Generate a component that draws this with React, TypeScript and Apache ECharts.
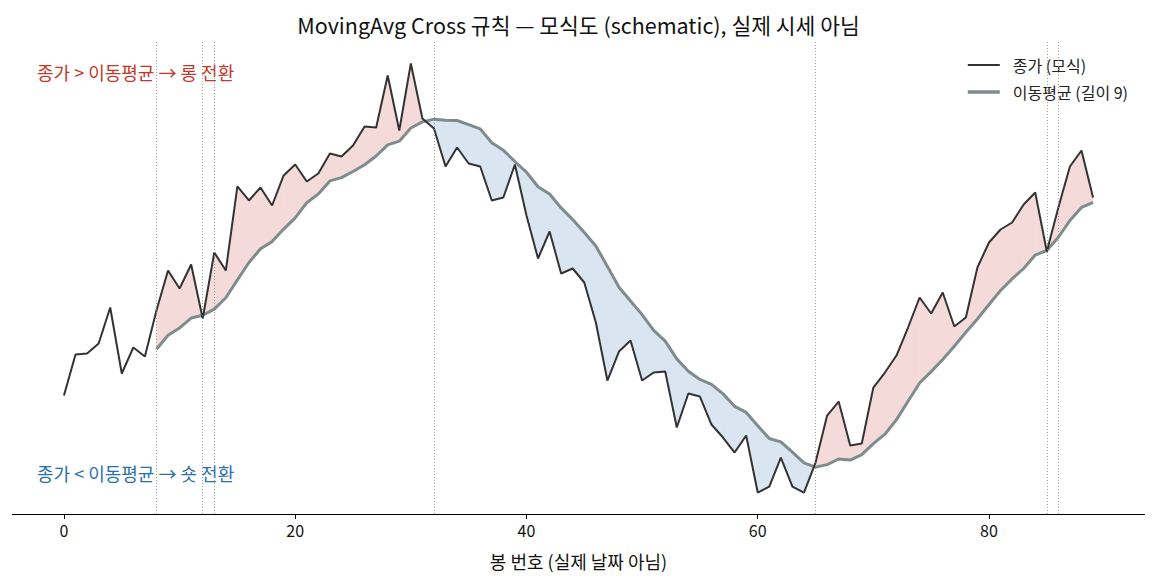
import * as echarts from 'echarts';
import { useEffect, useRef } from 'react';

// 봉 번호별 종가 (모식도 값)
const closes = [
  100.0, 104.1, 104.2, 105.2, 108.8, 102.2, 104.8, 103.9, 108.5, 112.5,
  110.7, 113.1, 107.7, 114.3, 112.5, 120.9, 119.5, 120.8, 119.0, 122.0,
  123.1, 121.4, 122.2, 124.2, 123.9, 125.0, 126.9, 126.8, 132.0, 126.5,
  133.2, 127.7, 126.7, 122.9, 124.8, 123.2, 122.9, 119.5, 119.8, 123.1,
  118.0, 113.7, 116.4, 112.2, 112.7, 111.3, 107.3, 101.5, 104.4, 105.5,
  101.5, 102.3, 102.4, 96.8, 100.2, 99.9, 97.1, 95.8, 94.3, 96.0,
  90.3, 90.9, 93.8, 90.9, 90.3, 93.3, 98.0, 99.4, 95.0, 95.2,
  100.8, 102.3, 104.0, 106.8, 109.8, 108.2, 110.3, 106.9, 107.8, 112.8,
  115.3, 116.6, 117.3, 119.1, 120.3, 114.4, 118.8, 122.9, 124.5, 119.8,
];
const maWindow = 9;
const xTicks = [0, 20, 40, 60, 80];

const TITLE = 'MovingAvg Cross 규칙 — 모식도 (schematic), 실제 시세 아님';
const LONG_TEXT = '종가 > 이동평균 → 롱 전환';
const SHORT_TEXT = '종가 < 이동평균 → 숏 전환';
const FONT = '"Noto Sans CJK KR", "Noto Sans", sans-serif';

// 이동평균
const ma: (number | null)[] = closes.map((_, i) => {
  if (i < maWindow - 1) return null;
  let s = 0;
  for (let k = i - maWindow + 1; k <= i; k++) s += closes[k];
  return s / maWindow;
});

// 교차 지점 (부호가 바뀌는 봉)
const crosses: number[] = [];
let prevSign = 0;
ma.forEach((m, i) => {
  if (m === null) return;
  const s = closes[i] >= m ? 1 : -1;
  if (s !== prevSign) crosses.push(i);
  prevSign = s;
});

const segments: number[][] = [];
for (let i = maWindow - 1; i < closes.length - 1; i++) {
  segments.push([i, closes[i], ma[i] as number, closes[i + 1], ma[i + 1] as number]);
}

const UP_FILL = 'rgba(192,57,43,0.18)';
const DOWN_FILL = 'rgba(44,111,173,0.18)';

const renderFill = (params: any, api: any) => {
  const x0 = api.value(0);
  const c0 = api.value(1);
  const m0 = api.value(2);
  const c1 = api.value(3);
  const m1 = api.value(4);
  const x1 = x0 + 1;
  const d0 = c0 - m0;
  const d1 = c1 - m1;
  const poly = (pts: number[][], up: boolean) => ({
    type: 'polygon',
    shape: { points: pts.map((p) => api.coord(p)) },
    style: { fill: up ? UP_FILL : DOWN_FILL, stroke: null },
    silent: true,
  });
  const children: any[] = [];
  if (d0 * d1 >= 0) {
    const up = d0 + d1 >= 0;
    children.push(poly([[x0, c0], [x1, c1], [x1, m1], [x0, m0]], up));
  } else {
    const t = d0 / (d0 - d1);
    const xi = x0 + t;
    const yi = c0 + t * (c1 - c0);
    children.push(poly([[x0, c0], [xi, yi], [x0, m0]], d0 > 0));
    children.push(poly([[xi, yi], [x1, c1], [x1, m1]], d1 > 0));
  }
  return { type: 'group', children };
};

const yMinData = Math.min(...closes);
const yMaxData = Math.max(...closes);
const yPad = (yMaxData - yMinData) * 0.05;

const option = {
  animation: false,
  backgroundColor: '#fff',
  textStyle: { fontFamily: FONT },
  title: {
    text: TITLE,
    left: 'center',
    top: 9,
    textStyle: { fontFamily: FONT, fontSize: 21.5, fontWeight: 'normal', color: '#111' },
  },
  legend: {
    data: [
      { name: '종가 (모식)', lineStyle: { width: 2 } },
      { name: '이동평균 (길이 9)', lineStyle: { width: 3.5 } },
    ],
    orient: 'vertical',
    right: 24,
    top: 52,
    itemWidth: 32,
    itemHeight: 16,
    itemGap: 11,
    selectedMode: false,
    itemStyle: { opacity: 0 },
    textStyle: { fontFamily: FONT, fontSize: 16, color: '#222', padding: [0, 0, 0, 8] },
  },
  grid: { left: 12.5, right: 12.5, top: 42, bottom: 70 },
  xAxis: {
    type: 'value',
    min: -4.45,
    max: 93.45,
    name: '봉 번호 (실제 날짜 아님)',
    nameLocation: 'middle',
    nameGap: 38,
    nameTextStyle: { fontFamily: FONT, fontSize: 18, color: '#111' },
    axisLine: { show: true, lineStyle: { color: '#000', width: 1 } },
    axisTick: { show: true, length: 5, customValues: xTicks, lineStyle: { color: '#000' } },
    axisLabel: { customValues: xTicks, fontFamily: FONT, fontSize: 16, color: '#111', margin: 8 },
    splitLine: { show: false },
  },
  yAxis: {
    type: 'value',
    min: yMinData - yPad,
    max: yMaxData + yPad,
    show: false,
    splitLine: { show: false },
  },
  graphic: [
    {
      type: 'text',
      left: 37,
      top: 63,
      style: { text: LONG_TEXT, fill: '#c0392b', fontSize: 18, fontFamily: FONT },
    },
    {
      type: 'text',
      left: 37,
      top: 464,
      style: { text: SHORT_TEXT, fill: '#2c6fad', fontSize: 18, fontFamily: FONT },
    },
  ],
  series: [
    {
      name: 'fill',
      type: 'custom',
      renderItem: renderFill,
      data: segments,
      encode: { x: 0, y: 1 },
      z: 1,
      silent: true,
    },
    {
      name: '종가 (모식)',
      type: 'line',
      data: closes.map((c, i) => [i, c]),
      symbol: 'none',
      lineStyle: { color: '#333', width: 2 },
      itemStyle: { color: '#333' },
      z: 3,
      markLine: {
        silent: true,
        symbol: 'none',
        label: { show: false },
        lineStyle: { color: '#888', width: 0.8, type: [1, 2] },
        data: crosses.map((x) => ({ xAxis: x })),
      },
    },
    {
      name: '이동평균 (길이 9)',
      type: 'line',
      data: ma.map((m, i) => [i, m]),
      symbol: 'none',
      connectNulls: false,
      lineStyle: { color: '#7f8c8d', width: 3 },
      itemStyle: { color: '#7f8c8d' },
      z: 2,
    },
  ],
};

export default function App() {
  const chartRef = useRef<HTMLDivElement>(null);

  useEffect(() => {
    if (!chartRef.current) return;
    const chart = echarts.init(chartRef.current, null, { renderer: 'svg' });
    chart.setOption(option as any);
    return () => {
      chart.dispose();
    };
  }, []);

  return (
    <div
      ref={chartRef}
      style={{ position: 'fixed', left: 0, top: 0, width: 1157, height: 584 }}
    ></div>
  );
}
